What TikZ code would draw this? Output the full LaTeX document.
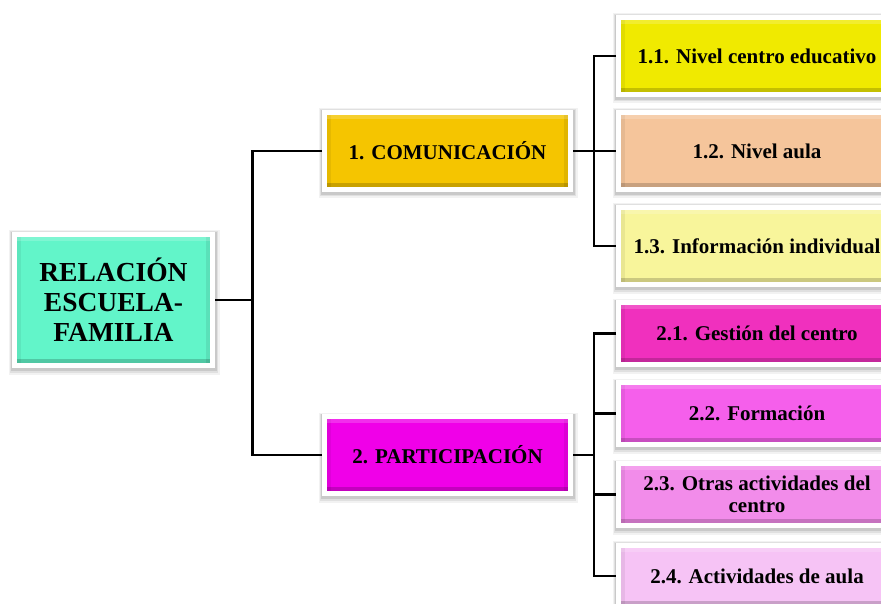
\documentclass[tikz,border=0pt]{standalone}
\usepackage{fontspec}
\setmainfont{Liberation Serif}
\usetikzlibrary{calc}
\definecolor{cRoot}{RGB}{98,245,201}
\definecolor{cCom}{RGB}{245,197,0}
\definecolor{cPar}{RGB}{240,0,232}
\definecolor{cA}{RGB}{240,234,0}
\definecolor{cB}{RGB}{245,197,155}
\definecolor{cC}{RGB}{248,245,155}
\definecolor{cD}{RGB}{240,48,190}
\definecolor{cE}{RGB}{245,95,235}
\definecolor{cF}{RGB}{242,140,234}
\definecolor{cG}{RGB}{246,195,245}
\tikzset{
  bevelbox/.style={rectangle, draw=white, line width=5pt, fill=#1,
    align=center, inner sep=2pt, font=\bfseries,
    preaction={draw=black, draw opacity=.05, line width=13pt, transform canvas={xshift=0.5pt,yshift=-2.5pt}},
    preaction={draw=black, draw opacity=.07, line width=10pt, transform canvas={xshift=0.5pt,yshift=-2pt}},
    preaction={draw=black, draw opacity=.10, line width=7.5pt, transform canvas={xshift=0.3pt,yshift=-1.5pt}},
    path picture={
      \coordinate (sw) at (path picture bounding box.south west);
      \coordinate (ne) at (path picture bounding box.north east);
      \fill[black,opacity=.18] (sw) rectangle ($(sw-|ne)+(0pt,6.5pt)$);
      \fill[black,opacity=.08] ($(sw-|ne)+(-6.5pt,0pt)$) rectangle (ne);
      \fill[black,opacity=.06] (sw) rectangle ($(ne-|sw)+(6.5pt,0pt)$);
      \fill[white,opacity=.18] ($(ne-|sw)+(0pt,-6.5pt)$) rectangle (ne);
    }},
  rootbox/.style={bevelbox=cRoot, minimum width=198pt, minimum height=131pt,
    font=\bfseries\fontsize{27.5}{30}\selectfont},
  midbox/.style={bevelbox=#1, minimum width=246pt, minimum height=77pt,
    font=\bfseries\fontsize{21}{22}\selectfont},
  leafbox/.style={bevelbox=#1, minimum width=277pt,
    font=\bfseries\fontsize{21}{22.5}\selectfont},
  conn/.style={line width=2.2pt, black}
}
\begin{document}
\begin{tikzpicture}[x=1pt,y=-1pt]
\useasboundingbox (0,0) rectangle (881,604);
\fill[white] (0,0) rectangle (881,604);
\clip (0,0) rectangle (881,604);
\node[rootbox] (root) at (113.5,300) {RELACIÓN\\ESCUELA-\\FAMILIA};
\node[midbox=cCom] (c1) at (447.5,151) {1. COMUNICACIÓN};
\node[midbox=cPar] (c2) at (447.5,455) {2. PARTICIPACIÓN};
\node[leafbox=cA, minimum height=77pt] (c11) at (757,56) {1.1. Nivel centro educativo};
\node[leafbox=cB, minimum height=77pt] (c12) at (757,151) {1.2. Nivel aula};
\node[leafbox=cC, minimum height=77pt] (c13) at (757,246) {1.3. Información individual};
\node[leafbox=cD, minimum height=62pt] (c21) at (757,333.5) {2.1. Gestión del centro};
\node[leafbox=cE, minimum height=62pt] (c22) at (757,413.5) {2.2. Formación};
\node[leafbox=cF, minimum height=62pt] (c23) at (757,494.5) {2.3. Otras actividades del\\centro};
\node[leafbox=cG, minimum height=62pt] (c24) at (757,576) {2.4. Actividades de aula};
\coordinate (j0) at (252.5,300);
\coordinate (j1) at (594,151);
\coordinate (j2) at (594,455);
\draw[conn] (root.east) -- (j0);
\draw[conn] (c1.west) -| (j0) |- (c2.west);
\draw[conn] (c1.east) -- (j1);
\draw[conn] (c11.west) -| (j1) |- (c13.west);
\draw[conn] (j1) |- (c12.west);
\draw[conn] (c2.east) -- (j2);
\draw[conn] (c21.west) -| (j2) |- (c24.west);
\draw[conn] (j2) |- (c22.west);
\draw[conn] (j2) |- (c23.west);
\end{tikzpicture}
\end{document}
